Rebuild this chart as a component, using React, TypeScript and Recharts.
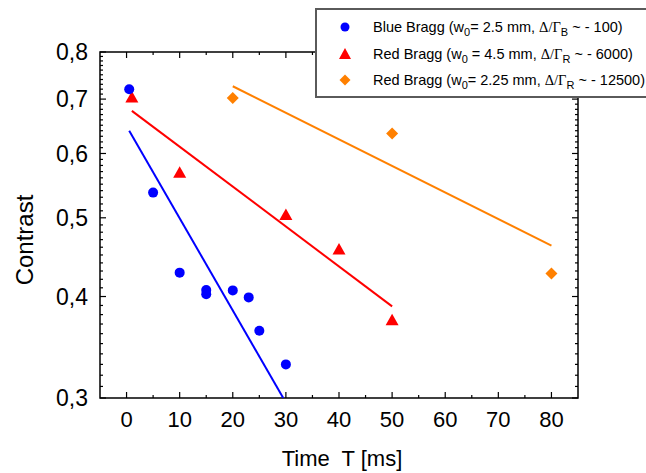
import { ScatterChart, Scatter, XAxis, YAxis, ReferenceArea, Legend } from "recharts";

// measured points (time in ms, contrast)
const blueT = [0.5, 5, 10, 15, 15, 20, 23, 25, 30];
const blueC = [0.72, 0.537, 0.428, 0.4075, 0.4026, 0.407, 0.399, 0.363, 0.33];
const redT = [1, 10, 30, 40, 50];
const redC = [0.703, 0.568, 0.504, 0.457, 0.374];
const orangeT = [20, 50, 80];
const orangeC = [0.702, 0.635, 0.427];

// exponential fits (straight on the log axis), end points
const blueFitT = [0.5, 29.5];
const blueFitC = [0.64, 0.3];
const redFitT = [1, 50];
const redFitC = [0.677, 0.389];
const orangeFitT = [20, 80];
const orangeFitC = [0.726, 0.462];

const xMajor = [0, 10, 20, 30, 40, 50, 60, 70, 80];
const xMinor = [5, 15, 25, 35, 45, 55, 65, 75];
const yMajor = [0.3, 0.4, 0.5, 0.6, 0.7, 0.8];

const W = 646;
const H = 473;
const Y_AXIS_W = 100;
const X_AXIS_H = 75;
const MARGIN = { top: 52, right: 68, bottom: 0, left: 0 };
const PLOT_W = W - Y_AXIS_W - MARGIN.right;
const PLOT_H = H - X_AXIS_H - MARGIN.top;
const TICK_GAP = 12;

const BLUE = "#0000ff";
const RED = "#ff0000";
const ORANGE = "#ff8000";
const FONT = "'Liberation Sans', Arial, sans-serif";

const pts = (t: number[], c: number[]) => t.map((v, i) => ({ t: v, c: c[i] }));

// minor ticks every 0.01 between the major ones
const yMinor: number[] = [];
yMajor.slice(0, -1).forEach((m) => {
    for (let k = 1; k < 10; k++) yMinor.push(Math.round((m + k / 100) * 1000) / 1000);
});
const yTicks = [...yMajor, ...yMinor].sort((a, b) => a - b);
const xTicks = [...xMajor, ...xMinor].sort((a, b) => a - b);

const isMajorY = (v: number) => yMajor.some((m) => Math.abs(m - v) < 1e-6);

function YTick({ x, y, payload }: any) {
    const v = payload.value;
    const major = isMajorY(v);
    const ax = x + TICK_GAP;
    const len = major ? 6 : 3;
    return (
        <g>
            <line x1={ax} x2={ax + len} y1={y} y2={y} stroke="#000" strokeWidth={1.2} />
            <line x1={ax + PLOT_W} x2={ax + PLOT_W - len} y1={y} y2={y} stroke="#000" strokeWidth={1.2} />
            {major && (
                <text x={x} y={y} dy="0.36em" textAnchor="end" fontSize={23} fontFamily={FONT} fill="#000">
                    {v.toFixed(1).replace(".", ",")}
                </text>
            )}
        </g>
    );
}

function XTick({ x, y, payload }: any) {
    const v = payload.value;
    const major = xMajor.includes(v);
    const ay = y - TICK_GAP;
    const len = major ? 6 : 3;
    return (
        <g>
            <line x1={x} x2={x} y1={ay} y2={ay - len} stroke="#000" strokeWidth={1.2} />
            <line x1={x} x2={x} y1={ay - PLOT_H} y2={ay - PLOT_H + len} stroke="#000" strokeWidth={1.2} />
            {major && (
                <text x={x} y={y} dy="0.75em" textAnchor="middle" fontSize={22} fontFamily={FONT} fill="#000">
                    {v}
                </text>
            )}
        </g>
    );
}

const Circle = ({ cx, cy }: any) => <circle cx={cx} cy={cy} r={5} fill={BLUE} />;
const Triangle = ({ cx, cy }: any) => (
    <polygon points={`${cx},${cy - 6.5} ${cx - 6.5},${cy + 5} ${cx + 6.5},${cy + 5}`} fill={RED} />
);
const Diamond = ({ cx, cy }: any) => (
    <polygon points={`${cx},${cy - 6} ${cx + 6},${cy} ${cx},${cy + 6} ${cx - 6},${cy}`} fill={ORANGE} />
);
const NoDot = () => <g />;

const sym = { fontFamily: "'Liberation Serif', serif" };
const sub = { fontSize: 11, verticalAlign: "-4px", lineHeight: 0 };

const legendRows = [
    {
        marker: <circle cx={8} cy={8} r={4.5} fill={BLUE} />,
        text: (
            <>
                Blue Bragg (w<span style={sub}>0</span>= 2.5 mm, <span style={sym}>Δ/Γ</span>
                <span style={sub}>B</span> ~ - 100)
            </>
        ),
    },
    {
        marker: <polygon points="8,2 2,13 14,13" fill={RED} />,
        text: (
            <>
                Red Bragg (w<span style={sub}>0</span> = 4.5 mm, <span style={sym}>Δ/Γ</span>
                <span style={sub}>R</span> ~ - 6000)
            </>
        ),
    },
    {
        marker: <polygon points="8,2.5 13.5,8 8,13.5 2.5,8" fill={ORANGE} />,
        text: (
            <>
                Red Bragg (w<span style={sub}>0</span>= 2.25 mm, <span style={sym}>Δ/Γ</span>
                <span style={sub}>R</span> ~ - 12500)
            </>
        ),
    },
];

function LegendBox() {
    return (
        <div
            style={{
                boxSizing: "border-box",
                width: W - 315,
                height: 90,
                background: "#fff",
                border: "2px solid #5a5a5a",
                borderRight: "none",
                paddingTop: 4,
                fontFamily: FONT,
                fontSize: 14.5,
                color: "#000",
            }}
        >
            {legendRows.map((r, i) => (
                <div key={i} style={{ display: "flex", alignItems: "center", height: 26.5, lineHeight: 1 }}>
                    <svg width={16} height={16} style={{ marginLeft: 20, marginRight: 20 }}>
                        {r.marker}
                    </svg>
                    <span style={{ whiteSpace: "pre" }}>{r.text}</span>
                </div>
            ))}
        </div>
    );
}

export default function App() {
    return (
        <div style={{ position: "absolute", left: 0, top: 0, width: W, height: H, overflow: "hidden", background: "#fff" }}>
            <ScatterChart width={W} height={H} margin={MARGIN}>
                <ReferenceArea x1={-5} x2={85} y1={0.3} y2={0.8} fill="none" fillOpacity={0} stroke="#000" strokeWidth={1.5} />
                <XAxis
                    type="number"
                    dataKey="t"
                    domain={[-5, 85]}
                    ticks={xTicks}
                    interval={0}
                    height={X_AXIS_H}
                    axisLine={false}
                    tickLine={false}
                    tickSize={0}
                    tickMargin={TICK_GAP}
                    tick={<XTick />}
                    label={{
                        content: ({ viewBox }: any) => (
                            <text
                                x={viewBox.x + viewBox.width / 2 + 3}
                                y={viewBox.y + 60}
                                textAnchor="middle"
                                dominantBaseline="central"
                                fontSize={22}
                                fontFamily={FONT}
                                style={{ whiteSpace: "pre" }}
                            >
                                {"Time  T [ms]"}
                            </text>
                        ),
                    }}
                />
                <YAxis
                    type="number"
                    dataKey="c"
                    scale="log"
                    domain={[0.3, 0.8]}
                    allowDataOverflow
                    ticks={yTicks}
                    interval={0}
                    width={Y_AXIS_W}
                    axisLine={false}
                    tickLine={false}
                    tickSize={0}
                    tickMargin={TICK_GAP}
                    tick={<YTick />}
                    label={{
                        content: ({ viewBox }: any) => {
                            const cx = viewBox.x + 24;
                            const cy = viewBox.y + viewBox.height / 2 + 15;
                            return (
                                <text
                                    x={cx}
                                    y={cy}
                                    transform={`rotate(-90 ${cx} ${cy})`}
                                    textAnchor="middle"
                                    dominantBaseline="central"
                                    fontSize={24}
                                    fontFamily={FONT}
                                >
                                    Contrast
                                </text>
                            );
                        },
                    }}
                />
                <Scatter data={pts(blueFitT, blueFitC)} line={{ stroke: BLUE, strokeWidth: 2 }} shape={<NoDot />} isAnimationActive={false} />
                <Scatter data={pts(redFitT, redFitC)} line={{ stroke: RED, strokeWidth: 2 }} shape={<NoDot />} isAnimationActive={false} />
                <Scatter data={pts(orangeFitT, orangeFitC)} line={{ stroke: ORANGE, strokeWidth: 2 }} shape={<NoDot />} isAnimationActive={false} />
                <Scatter data={pts(orangeT, orangeC)} shape={<Diamond />} isAnimationActive={false} />
                <Scatter data={pts(redT, redC)} shape={<Triangle />} isAnimationActive={false} />
                <Scatter data={pts(blueT, blueC)} shape={<Circle />} isAnimationActive={false} />
                <Legend
                    layout="vertical"
                    align="center"
                    verticalAlign="middle"
                    content={<LegendBox />}
                    wrapperStyle={{ position: "absolute", left: 315, top: 8, width: W - 315, height: 90 }}
                />
            </ScatterChart>
        </div>
    );
}
